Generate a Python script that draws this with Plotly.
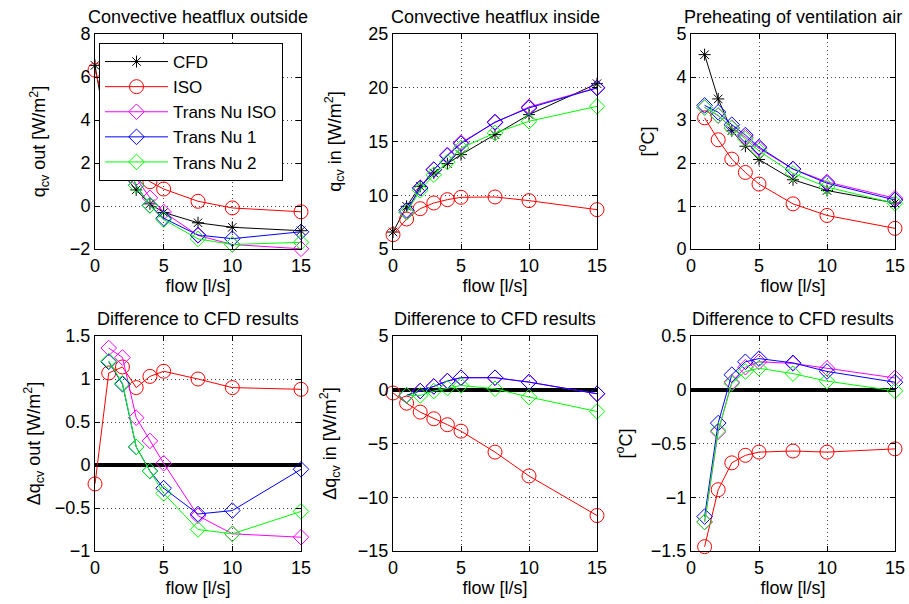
import plotly.graph_objects as go

# ---------------- data ----------------
flow = [0, 1, 2, 3, 4, 5, 7.5, 10, 15]
flow_tn = [1, 2, 3, 4, 5, 7.5, 10, 15]

# Convective heatflux outside
out_cfd = [6.54, 2.90, 1.50, 0.75, 0.10, -0.30, -0.78, -0.99, -1.15]
out_iso = [6.32, 3.97, 2.64, 1.65, 1.13, 0.79, 0.22, -0.09, -0.27]
out_tniso = [4.26, 2.75, 1.30, 0.38, -0.28, -1.37, -1.79, -1.99]
out_tn1 = [4.10, 2.44, 0.96, 0.03, -0.57, -1.35, -1.52, -1.20]
out_tn2 = [4.11, 2.45, 0.96, 0.03, -0.63, -1.53, -1.79, -1.69]

# Convective heatflux inside
in_cfd = [6.58, 8.97, 10.83, 12.07, 12.94, 13.78, 15.64, 17.50, 20.38]
in_iso = [6.33, 7.79, 8.75, 9.28, 9.59, 9.81, 9.84, 9.50, 8.66]
in_tniso = [8.44, 10.71, 12.38, 13.75, 14.90, 16.76, 18.21, 20.01]
in_tn1 = [8.60, 10.67, 12.38, 13.68, 14.80, 16.81, 18.12, 19.98]
in_tn2 = [8.41, 10.46, 11.91, 13.09, 14.40, 15.79, 16.88, 18.27]

# Preheating of ventilation air
pre_cfd = [4.52, 3.49, 2.75, 2.39, 2.08, 1.61, 1.36, 1.07]
pre_iso = [3.05, 2.54, 2.09, 1.78, 1.51, 1.05, 0.78, 0.48]
pre_tniso = [3.29, 3.10, 2.82, 2.60, 2.34, 1.86, 1.56, 1.18]
pre_tn1 = [3.34, 3.18, 2.89, 2.65, 2.37, 1.86, 1.53, 1.14]
pre_tn2 = [3.29, 3.11, 2.81, 2.56, 2.28, 1.76, 1.44, 1.06]

# Differences to CFD: outside
dout_iso = [-0.22, 1.07, 1.14, 0.90, 1.03, 1.09, 1.00, 0.90, 0.88]
dout_tniso = [1.36, 1.25, 0.55, 0.28, 0.02, -0.59, -0.80, -0.84]
dout_tn1 = [1.20, 0.94, 0.21, -0.07, -0.27, -0.57, -0.53, -0.05]
dout_tn2 = [1.21, 0.95, 0.21, -0.07, -0.33, -0.75, -0.80, -0.54]

# Differences to CFD: inside
din_iso = [-0.30, -1.25, -2.08, -2.70, -3.25, -3.85, -5.80, -8.02, -11.70]
din_tniso = [-0.50, -0.12, 0.31, 0.81, 1.12, 1.12, 0.71, -0.37]
din_tn1 = [-0.53, -0.12, 0.31, 0.81, 1.12, 1.12, 0.71, -0.37]
din_tn2 = [-0.53, -0.53, -0.12, 0.16, 0.40, 0.09, -0.68, -2.02]

# Differences to CFD: preheating
dpre_iso = [-1.46, -0.93, -0.68, -0.61, -0.58, -0.57, -0.58, -0.55]
dpre_tniso = [-1.23, -0.39, 0.07, 0.21, 0.26, 0.245, 0.20, 0.11]
dpre_tn1 = [-1.18, -0.31, 0.14, 0.26, 0.29, 0.25, 0.17, 0.07]
dpre_tn2 = [-1.23, -0.38, 0.06, 0.17, 0.20, 0.15, 0.08, -0.01]

names = ["CFD", "ISO", "Trans Nu ISO", "Trans Nu 1", "Trans Nu 2"]
titles = ["Convective heatflux outside", "Convective heatflux inside",
          "Preheating of ventilation air", "Difference to CFD results",
          "Difference to CFD results", "Difference to CFD results"]
ytitles = ["q<sub>cv</sub> out [W/m<sup>2</sup>]", "q<sub>cv</sub> in [W/m<sup>2</sup>]",
           "[<sup>o</sup>C]", "Δq<sub>cv</sub> out [W/m<sup>2</sup>]",
           "Δq<sub>cv</sub> in [W/m<sup>2</sup>]", "[<sup>o</sup>C]"]
yranges = [[-2, 8], [5, 25], [0, 5], [-1, 1.5], [-15, 5], [-1.5, 0.5]]
ydticks = [2, 5, 1, 0.5, 5, 0.5]
ystandoff = [19, 22, 17, 9, 16, 13]

# ---------------- styling ----------------
W, H = 909, 604
FONT = "Liberation Sans, Arial, Helvetica, sans-serif"
colors = {"CFD": "#000000", "ISO": "#ff0000", "Trans Nu ISO": "#ff00ff",
          "Trans Nu 1": "#0000ff", "Trans Nu 2": "#00ff00"}
symbols = {"CFD": "asterisk-open", "ISO": "circle-open", "Trans Nu ISO": "diamond-open",
           "Trans Nu 1": "diamond-open", "Trans Nu 2": "diamond-open"}
msize = {"CFD": 10, "ISO": 14, "Trans Nu ISO": 12, "Trans Nu 1": 12, "Trans Nu 2": 12}

xpx = [(95, 301), (393, 597), (691, 895)]
ypx = [(34, 249), (336, 551)]

fig = go.Figure()

panels = [
    [(flow, out_cfd, "CFD"), (flow, out_iso, "ISO"), (flow_tn, out_tniso, "Trans Nu ISO"),
     (flow_tn, out_tn1, "Trans Nu 1"), (flow_tn, out_tn2, "Trans Nu 2")],
    [(flow, in_cfd, "CFD"), (flow, in_iso, "ISO"), (flow_tn, in_tniso, "Trans Nu ISO"),
     (flow_tn, in_tn1, "Trans Nu 1"), (flow_tn, in_tn2, "Trans Nu 2")],
    [(flow_tn, pre_cfd, "CFD"), (flow_tn, pre_iso, "ISO"), (flow_tn, pre_tniso, "Trans Nu ISO"),
     (flow_tn, pre_tn1, "Trans Nu 1"), (flow_tn, pre_tn2, "Trans Nu 2")],
    [(flow, dout_iso, "ISO"), (flow_tn, dout_tniso, "Trans Nu ISO"),
     (flow_tn, dout_tn1, "Trans Nu 1"), (flow_tn, dout_tn2, "Trans Nu 2")],
    [(flow, din_iso, "ISO"), (flow_tn, din_tniso, "Trans Nu ISO"),
     (flow_tn, din_tn1, "Trans Nu 1"), (flow_tn, din_tn2, "Trans Nu 2")],
    [(flow_tn, dpre_iso, "ISO"), (flow_tn, dpre_tniso, "Trans Nu ISO"),
     (flow_tn, dpre_tn1, "Trans Nu 1"), (flow_tn, dpre_tn2, "Trans Nu 2")],
]

annotations = []
for i, series in enumerate(panels):
    row, col = divmod(i, 3)
    xa = "x" if i == 0 else f"x{i+1}"
    ya = "y" if i == 0 else f"y{i+1}"
    for xs, ys, nm in series:
        fig.add_trace(go.Scatter(
            x=xs, y=ys, name=nm, mode="lines+markers", xaxis=xa, yaxis=ya,
            showlegend=(i == 0), cliponaxis=False,
            line=dict(color=colors[nm], width=1),
            marker=dict(symbol=symbols[nm], size=msize[nm], color=colors[nm],
                        line=dict(color=colors[nm], width=1)),
        ))
    x0, x1 = xpx[col]
    y0, y1 = ypx[row]
    axcommon = dict(showline=True, linecolor="black", linewidth=1, mirror="ticks",
                    ticks="inside", ticklen=5, tickcolor="black", automargin=False,
                    showgrid=True, gridcolor="#444444", griddash="1px,3px", gridwidth=1,
                    tickfont=dict(family=FONT, size=18, color="black"))
    xkey = "xaxis" if i == 0 else f"xaxis{i+1}"
    ykey = "yaxis" if i == 0 else f"yaxis{i+1}"
    fig.update_layout(**{
        xkey: dict(axcommon, domain=[x0 / W, x1 / W], anchor=ya, range=[0, 15],
                   dtick=5, tick0=0, zeroline=False,
                   title=dict(text="flow [l/s]", font=dict(family=FONT, size=18, color="black"),
                              standoff=4)),
        ykey: dict(axcommon, domain=[1 - y1 / H, 1 - y0 / H], anchor=xa, range=yranges[i],
                   dtick=ydticks[i], tick0=0,
                   zeroline=(row == 1), zerolinecolor="black", zerolinewidth=4,
                   title=dict(text=ytitles[i], font=dict(family=FONT, size=18, color="black"),
                              standoff=ystandoff[i])),
    })
    annotations.append(dict(
        text=titles[i], x=(x0 + x1) / 2 / W, y=1 - (y0 - 5) / H, xref="paper", yref="paper",
        xanchor="center", yanchor="bottom", showarrow=False,
        font=dict(family=FONT, size=18, color="black")))

fig.update_layout(
    width=W, height=H, margin=dict(l=0, r=0, t=0, b=0, pad=0, autoexpand=False),
    paper_bgcolor="white", plot_bgcolor="white",
    annotations=annotations,
    legend=dict(x=99 / W, y=1 - 43 / H, xanchor="left", yanchor="top",
                bgcolor="white", bordercolor="black", borderwidth=1,
                font=dict(family=FONT, size=17, color="black"),
                itemwidth=63, tracegroupgap=0),
    font=dict(family=FONT, size=18, color="black"),
)

fig.write_html("out.html", config={"displayModeBar": False},
               post_script="document.body.style.margin='0';document.body.style.overflow='hidden';")
